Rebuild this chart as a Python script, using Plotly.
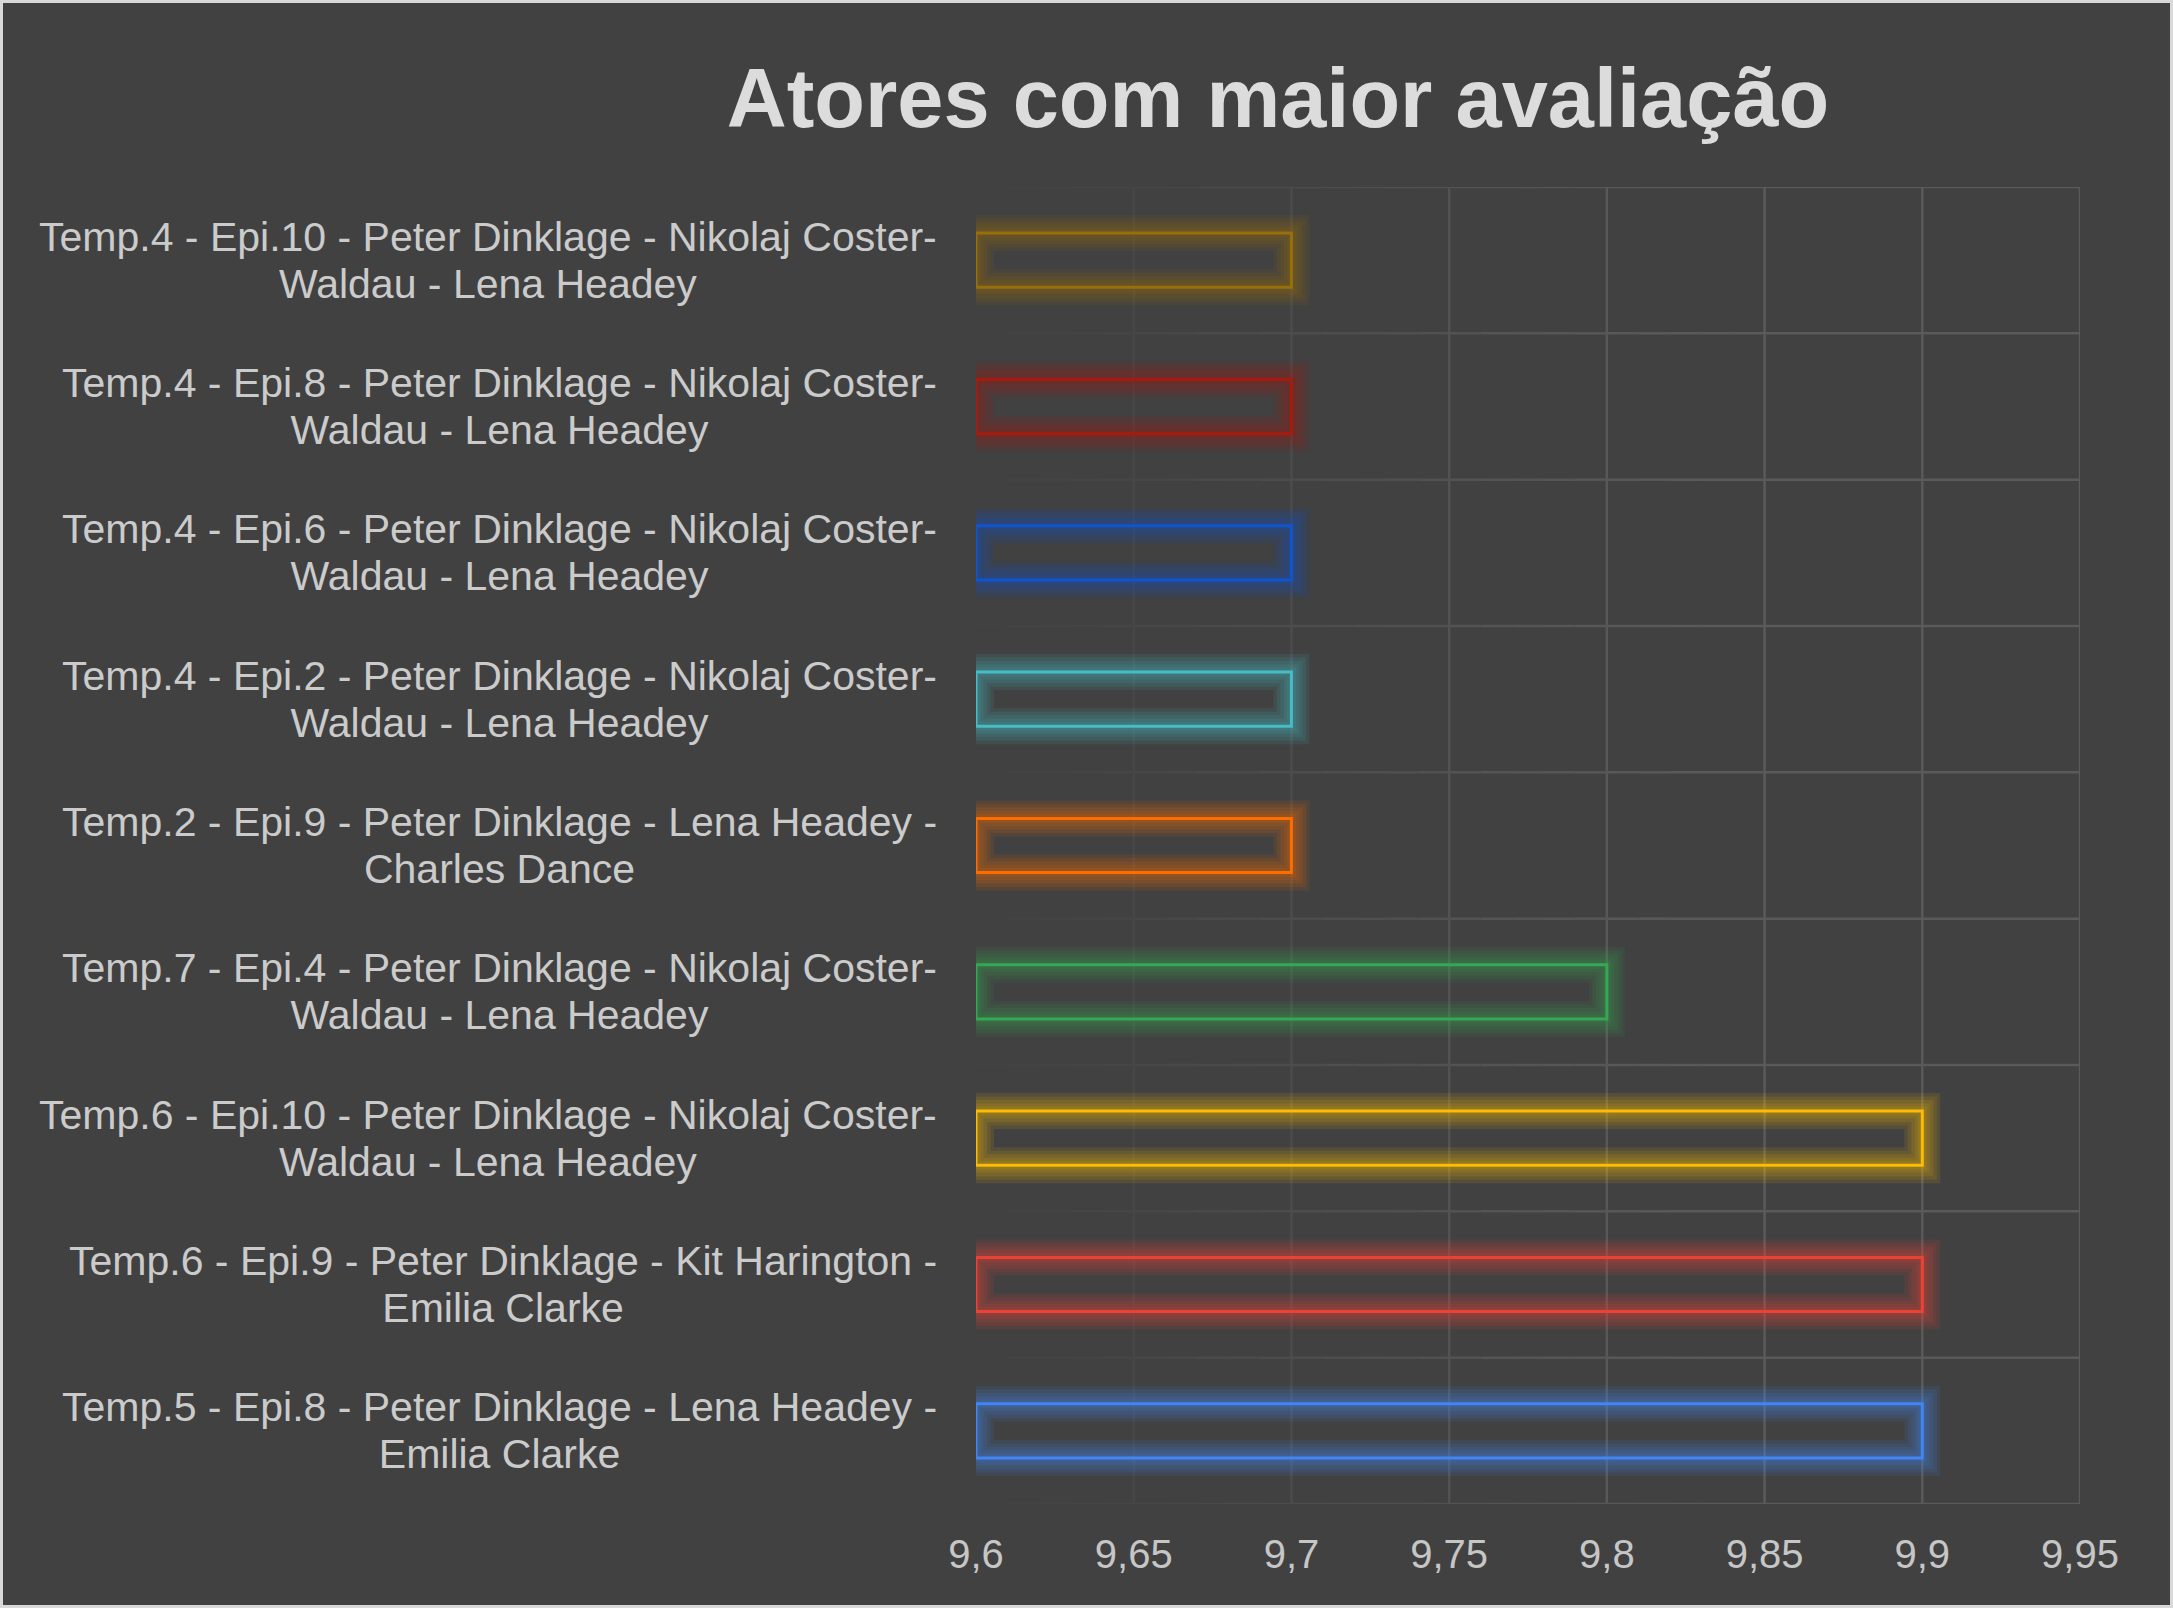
import plotly.graph_objects as go

# ---- data ----
labels = [
    "Temp.4 - Epi.10 - Peter Dinklage - Nikolaj Coster-<br>Waldau - Lena Headey",
    "Temp.4 - Epi.8 - Peter Dinklage - Nikolaj Coster-<br>Waldau - Lena Headey",
    "Temp.4 - Epi.6 - Peter Dinklage - Nikolaj Coster-<br>Waldau - Lena Headey",
    "Temp.4 - Epi.2 - Peter Dinklage - Nikolaj Coster-<br>Waldau - Lena Headey",
    "Temp.2 - Epi.9 - Peter Dinklage - Lena Headey -<br>Charles Dance",
    "Temp.7 - Epi.4 - Peter Dinklage - Nikolaj Coster-<br>Waldau - Lena Headey",
    "Temp.6 - Epi.10 - Peter Dinklage - Nikolaj Coster-<br>Waldau - Lena Headey",
    "Temp.6 - Epi.9 - Peter Dinklage - Kit Harington -<br>Emilia Clarke",
    "Temp.5 - Epi.8 - Peter Dinklage - Lena Headey -<br>Emilia Clarke",
]
ratings = [9.7, 9.7, 9.7, 9.7, 9.7, 9.8, 9.9, 9.9, 9.9]
colors = ["#976f0b", "#a51b10", "#1155cc", "#46bdc6", "#ff6d01",
          "#34a853", "#fbbc04", "#ea4335", "#4285f4"]
x_ticks = [9.6, 9.65, 9.7, 9.75, 9.8, 9.85, 9.9, 9.95]
x_ticktext = ["9,6", "9,65", "9,7", "9,75", "9,8", "9,85", "9,9", "9,95"]
x_min, x_max = 9.6, 9.95

BG = "#414141"
GRID = "#5a5a5a"
BORDER = "#d9d9d9"
FONT = "Arial, Liberation Sans, sans-serif"
W, H = 2173, 1608
ML, MR, MT, MB = 976, 93, 187, 104
PW, PH = W - ML - MR, H - MT - MB


def hex2rgb(hx):
    h = hx.lstrip("#")
    return int(h[0:2], 16), int(h[2:4], 16), int(h[4:6], 16)


def rgba(hx, a):
    r, g, b = hex2rgb(hx)
    return f"rgba({r},{g},{b},{a})"


def mix(f):
    a, b = hex2rgb(BG), hex2rgb(GRID)
    c = [round(a[i] + (b[i] - a[i]) * f) for i in range(3)]
    return f"rgb({c[0]},{c[1]},{c[2]})"


def fade(x):
    return max(0.0, min(1.0, (x - x_min) / 0.22))


fig = go.Figure()
lengths = [r - x_min for r in ratings]

# glow layers
for w in [36, 29, 22, 15, 9]:
    fig.add_trace(go.Bar(
        y=labels, x=lengths, base=x_min, orientation="h",
        marker=dict(color="rgba(0,0,0,0)",
                    line=dict(color=[rgba(c, 0.11) for c in colors], width=w)),
        hoverinfo="skip", showlegend=False,
    ))
# crisp outline
fig.add_trace(go.Bar(
    y=labels, x=lengths, base=x_min, orientation="h",
    marker=dict(color="rgba(0,0,0,0)", line=dict(color=colors, width=3)),
    customdata=ratings, hovertemplate="%{customdata}<extra></extra>",
    showlegend=False,
))


def px2paper_x(p):
    return (p - ML) / PW


def px2paper_y(p):
    return (H - MB - p) / PH


shapes = []
# vertical grid lines, fading toward the left
for t in x_ticks:
    f = fade(t)
    if f <= 0:
        continue
    shapes.append(dict(type="line", xref="x", yref="paper", x0=t, x1=t,
                       y0=0, y1=1, line=dict(color=mix(f), width=2.5),
                       layer="below"))
# horizontal grid lines at category boundaries, fading toward the left
nseg = 24
seg = 0.24 / nseg
for k in range(len(labels) + 1):
    yb = k - 0.5
    for s in range(nseg):
        xa = x_min + s * seg
        xb = xa + seg
        shapes.append(dict(type="line", xref="x", yref="y", x0=xa, x1=xb,
                           y0=yb, y1=yb,
                           line=dict(color=mix(fade((xa + xb) / 2)), width=2.5),
                           layer="below"))
    shapes.append(dict(type="line", xref="x", yref="y",
                       x0=x_min + 0.24, x1=x_max, y0=yb, y1=yb,
                       line=dict(color=GRID, width=2.5), layer="below"))

# light page border
shapes.append(dict(type="rect", xref="paper", yref="paper",
                   x0=px2paper_x(1.5), x1=px2paper_x(W - 1.5),
                   y0=px2paper_y(H - 1.5), y1=px2paper_y(1.5),
                   line=dict(color=BORDER, width=3), fillcolor="rgba(0,0,0,0)",
                   layer="above"))

annotations = []
for lab in labels:
    txt = "<br>".join(f"<span style='font-size:41px'>{ln}</span>"
                      for ln in lab.split("<br>"))
    annotations.append(dict(
        text=txt, xref="paper", x=0, xshift=-37, xanchor="right",
        yref="y", y=lab, yanchor="middle", align="center", showarrow=False,
        font=dict(size=36, color="#cbcbcb", family=FONT),
    ))

fig.update_layout(
    width=W, height=H,
    margin=dict(l=ML, r=MR, t=MT, b=MB, pad=0),
    paper_bgcolor=BG,
    plot_bgcolor="rgba(0,0,0,0)",
    barmode="overlay",
    bargap=0.63,
    title=dict(text="<b>Atores com maior avaliação</b>",
               x=1278 / W, xanchor="center", xref="container",
               y=1 - 98 / H, yanchor="middle", yref="container",
               font=dict(size=83, color="#dcdcdc", family=FONT)),
    shapes=shapes,
    annotations=annotations,
    font=dict(family=FONT),
)
fig.update_xaxes(
    range=[x_min, x_max], tickvals=x_ticks, ticktext=x_ticktext,
    showgrid=False, zeroline=False, showline=False,
    ticks="outside", ticklen=15, tickcolor="rgba(0,0,0,0)",
    tickfont=dict(size=40, color="#c6c6c6", family=FONT),
)
fig.update_yaxes(
    type="category", categoryorder="array", categoryarray=labels,
    range=[len(labels) - 0.5, -0.5],
    showgrid=False, showticklabels=False, ticks="", zeroline=False,
    showline=False,
)

fig.write_html("out.html")
